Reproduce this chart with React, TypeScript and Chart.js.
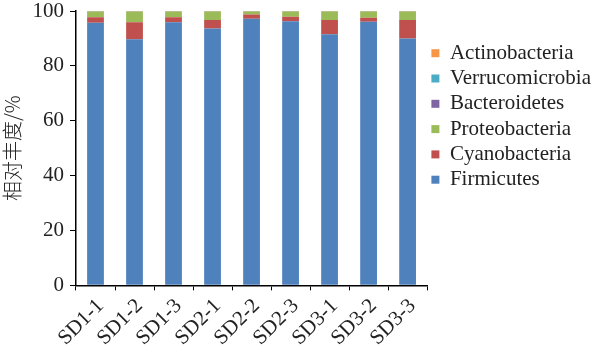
import React, { useEffect, useRef } from "react";
import { Chart, registerables } from "chart.js";

Chart.register(...registerables);

const categories = ["SD1-1", "SD1-2", "SD1-3", "SD2-1", "SD2-2", "SD2-3", "SD3-1", "SD3-2", "SD3-3"];
const firmicutes = [95.7, 89.7, 95.9, 93.6, 97.2, 96.3, 91.5, 96.1, 90.0];
const cyanobacteria = [2.0, 6.2, 1.8, 3.1, 1.5, 1.6, 5.2, 1.4, 6.7];
const proteobacteria = [2.1, 3.9, 2.1, 3.1, 1.1, 1.9, 3.1, 2.3, 3.1];
const bacteroidetes = [0.1, 0.1, 0.1, 0.1, 0.1, 0.1, 0.1, 0.1, 0.1];
const verrucomicrobia = [0.05, 0.05, 0.05, 0.05, 0.05, 0.05, 0.05, 0.05, 0.05];
const actinobacteria = [0.05, 0.05, 0.05, 0.05, 0.05, 0.05, 0.05, 0.05, 0.05];
const yTicks = [0, 20, 40, 60, 80, 100];

const seriesNames = ["Firmicutes", "Cyanobacteria", "Proteobacteria", "Bacteroidetes", "Verrucomicrobia", "Actinobacteria"];
const seriesData = [firmicutes, cyanobacteria, proteobacteria, bacteroidetes, verrucomicrobia, actinobacteria];
const seriesColors = ["#4F81BD", "#C0504D", "#9BBB59", "#8064A2", "#4BACC6", "#F79646"];

const SERIF = '"Liberation Serif", "Times New Roman", serif';

export default function App() {
  const ref = useRef<HTMLCanvasElement | null>(null);
  useEffect(() => {
    if (!ref.current) return;
    const chart = new Chart(ref.current, {
      type: "bar",
      data: {
        labels: categories,
        datasets: seriesNames.map((name, i) => ({
          label: name,
          data: seriesData[i],
          backgroundColor: seriesColors[i],
          borderWidth: 0,
          categoryPercentage: 1,
          barPercentage: 0.43,
        })),
      },
      options: {
        animation: false,
        responsive: true,
        maintainAspectRatio: false,
        layout: { padding: { top: 0, right: -8, bottom: 0, left: 0 } },
        plugins: {
          tooltip: { enabled: false },
          legend: {
            position: "right",
            align: "start",
            reverse: true,
            maxWidth: 200,
            title: { display: true, text: "", font: { size: 12 }, padding: { top: 24, bottom: 0 } },
            labels: {
              boxWidth: 8,
              boxHeight: 8,
              padding: 4.3,
              color: "#222",
              font: { family: SERIF, size: 21 },
            },
          },
        },
        scales: {
          x: {
            stacked: true,
            grid: { display: true, drawOnChartArea: false, drawTicks: true, tickLength: 5, color: "#000", offset: true },
            border: { display: true, color: "#000", width: 1.5 },
            ticks: {
              color: "#222",
              font: { family: SERIF, size: 21, lineHeight: 1 },
              minRotation: 45,
              maxRotation: 45,
              padding: 5,
              labelOffset: 5,
              autoSkip: false,
            },
          },
          y: {
            stacked: true,
            min: 0,
            max: 100,
            afterBuildTicks: (axis: any) => {
              axis.ticks = yTicks.map((v) => ({ value: v }));
            },
            afterFit: (axis: any) => {
              axis.paddingTop = 11;
            },
            grid: { display: true, drawOnChartArea: false, drawTicks: true, tickLength: 6, color: "#000" },
            border: { display: true, color: "#000", width: 1.5 },
            ticks: {
              color: "#222",
              font: { family: SERIF, size: 21 },
              padding: 6,
            },
            title: {
              display: true,
              text: "相对丰度/%",
              color: "#222",
              font: { family: '"Noto Sans CJK SC", sans-serif', size: 20, weight: 300 },
              padding: { top: 0, bottom: 2.5 },
            },
          },
        },
      },
    });
    return () => chart.destroy();
  }, []);
  return (
    <div style={{ position: "absolute", left: 0, top: 0, width: 593, height: 354, background: "#fff" }}>
      <canvas ref={ref} />
    </div>
  );
}
